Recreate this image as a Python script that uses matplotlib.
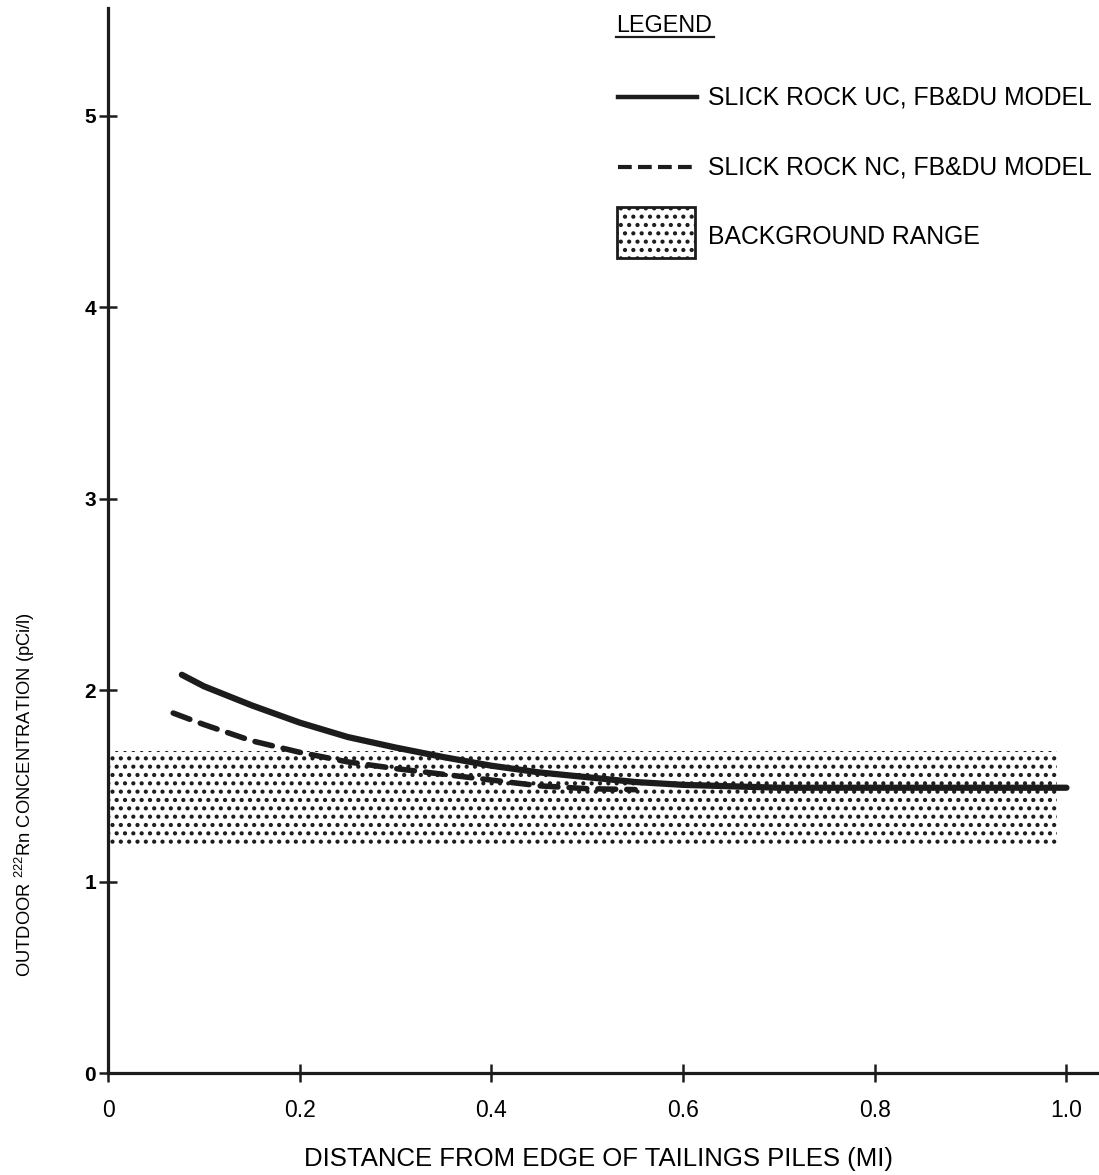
import matplotlib
matplotlib.use("Agg")
import matplotlib.pyplot as plt
from matplotlib.lines import Line2D
from matplotlib.patches import Rectangle

plt.rcParams['font.family'] = ['Liberation Sans', 'DejaVu Sans']
plt.rcParams['mathtext.fontset'] = 'custom'
plt.rcParams['mathtext.rm'] = 'Liberation Sans'
plt.rcParams['hatch.linewidth'] = 1.8
plt.rcParams['hatch.color'] = '#222222'

# values
uc_x = [0.077, 0.1, 0.15, 0.2, 0.25, 0.3, 0.35, 0.4, 0.45, 0.5, 0.55, 0.6, 0.7, 0.8, 0.9, 1.0]
uc_y = [2.08, 2.02, 1.92, 1.83, 1.755, 1.70, 1.65, 1.605, 1.57, 1.545, 1.52, 1.505, 1.49, 1.49, 1.49, 1.49]
nc_x = [0.068, 0.1, 0.15, 0.2, 0.25, 0.3, 0.35, 0.4, 0.45, 0.5, 0.55]
nc_y = [1.88, 1.82, 1.735, 1.675, 1.625, 1.59, 1.56, 1.53, 1.50, 1.485, 1.48]
bg_low, bg_high = 1.19, 1.68
bg_x = [0.0, 0.99]

xticks = [0, 0.2, 0.4, 0.6, 0.8, 1.0]
xlabels = ['0', '0.2', '0.4', '0.6', '0.8', '1.0']
yticks = [0, 1, 2, 3, 4, 5]

legend_labels = ['SLICK ROCK UC, FB&DU MODEL', 'SLICK ROCK NC, FB&DU MODEL', 'BACKGROUND RANGE']

ink = '#1c1c1c'

fig = plt.figure(figsize=(10.99, 11.75), dpi=100)
ax = fig.add_axes([0.0983, 0.0868, 0.900, 0.906])

ax.fill_between(bg_x, bg_low, bg_high, facecolor='white', edgecolor=ink,
                hatch='..', linewidth=0)
ax.plot(uc_x, uc_y, color=ink, lw=4.5, solid_capstyle='round')
ax.plot(nc_x, nc_y, color=ink, lw=4.0, dashes=(3.2, 2.0), dash_capstyle='round')

ax.set_xlim(0, 1.032)
ax.set_ylim(0, 5.56)
for s in ['top', 'right']:
    ax.spines[s].set_visible(False)
for s in ['left', 'bottom']:
    ax.spines[s].set_linewidth(2.3)
    ax.spines[s].set_color(ink)

ax.set_xticks(xticks)
ax.set_xticklabels(xlabels)
ax.set_yticks(yticks)
ax.tick_params(axis='both', direction='inout', length=13, width=1.8, color=ink)
ax.tick_params(axis='x', pad=12, labelsize=16.5)
ax.tick_params(axis='y', pad=2, labelsize=15)
for t in ax.get_yticklabels():
    t.set_fontweight('bold')

ax.set_xlabel('DISTANCE FROM EDGE OF TAILINGS PILES (MI)', fontsize=18.5)
ax.xaxis.set_label_coords(0.4955, -0.0695)
ax.set_ylabel(r'OUTDOOR $^{222}$Rn CONCENTRATION (pCi/l)', fontsize=13.2)
ax.yaxis.set_label_coords(-0.072, 0.262)

# legend, drawn by hand in figure coords
W, H = 1099.0, 1175.0
def fx(px): return px / W
def fy(py): return 1 - py / H

fig.text(fx(616), fy(25), 'LEGEND', fontsize=16.8, va='center', ha='left')
fig.add_artist(Line2D([fx(616), fx(714)], [fy(37), fy(37)], color=ink, lw=1.6))

fig.add_artist(Line2D([fx(618), fx(697)], [fy(97), fy(97)], color=ink, lw=3.2))
fig.text(fx(708), fy(97), legend_labels[0], fontsize=17.8, va='center', ha='left')

fig.add_artist(Line2D([fx(618), fx(697)], [fy(167), fy(167)], color=ink, lw=3.0,
                      dashes=(3.3, 1.5)))
fig.text(fx(708), fy(167), legend_labels[1], fontsize=17.8, va='center', ha='left')

fig.add_artist(Rectangle((fx(617), fy(258)), fx(695) - fx(617), fy(207) - fy(258),
                         facecolor='white', edgecolor=ink, hatch='..', lw=2.0,
                         transform=fig.transFigure))
fig.text(fx(708), fy(237), legend_labels[2], fontsize=17.8, va='center', ha='left')

fig.savefig('out.png', dpi=100)
